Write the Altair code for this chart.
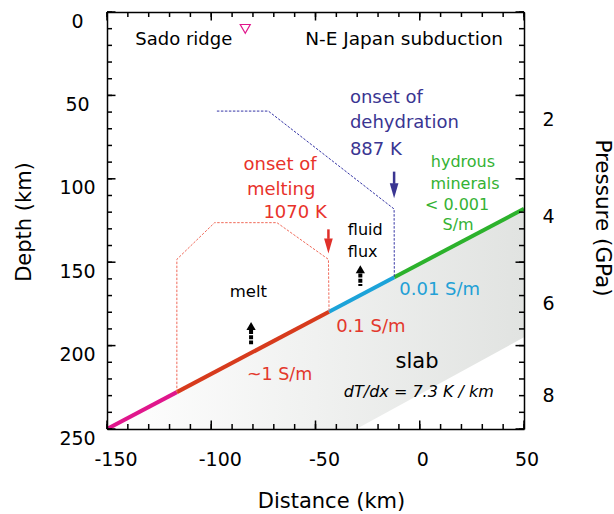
import altair as alt
import pandas as pd

FONT = "DejaVu Sans"
W, H = 417, 417

# ---- axes ----
x_major = [-150, -100, -50, 0, 50]
x_minor = list(range(-150, 51, 10))
y_major = [0, 50, 100, 150, 200, 250]
y_minor = list(range(0, 251, 10))
p_depth = [64.4, 122.4, 174.9, 229.7]
p_label = ["2", "4", "6", "8"]

# ---- slab body (gradient area) ----
slab_x = [-150, -30.4, 50]
slab_top = [250, 171.1, 118]
slab_bot = [250, 250, 195]

# ---- slab surface segments ----
seg_id = ["dry", "dry", "melt", "melt", "fluid", "fluid", "hyd", "hyd"]
seg_x = [-150, -116.5, -116.5, -43.5, -43.5, -12.2, -12.2, 50]
seg_d = [250, 227.9, 227.9, 179.7, 179.7, 159.0, 159.0, 118]
seg_names = ["dry", "melt", "fluid", "hyd"]
seg_colors = ["#e0168c", "#d73b1d", "#1ca3d9", "#2cb22c"]

# ---- dashed outlines ----
melt_x = [-116.5, -116.5, -98.4, -68.5, -43.8, -43.5]
melt_d = [227.9, 148.3, 126.3, 126.3, 148.3, 179.7]
dehy_x = [-97.3, -72.6, -12.3, -12.2]
dehy_d = [59.4, 59.4, 118.1, 159.0]

# ---- coloured arrows (onset markers) ----
arr_x = [-12.3, -43.8]
arr_top = [95.7, 130.3]
arr_base = [103.0, 136.0]
arr_head = [107.2, 140.3]
arr_color = ["#3a3592", "#e0302a"]

# ---- black upward arrows ----
up_x = [-28.5, -80.9]
up_head = [154.2, 188.2]
up_base = [156.7, 190.6]
up_tail = [164.3, 199.2]

# ---- Sado ridge marker ----
mk_x = [-83.7]
mk_d = [10.1]

# ---- text annotations ----
t_text = ["Sado ridge", "N-E Japan subduction",
          "onset of", "dehydration", "887 K",
          "onset of", "melting", "1070 K",
          "hydrous", "minerals", "< 0.001", "S/m",
          "fluid", "flux", "melt",
          "0.01 S/m", "0.1 S/m", "~1 S/m",
          "slab", "dT/dx = 7.3 K / km"]
t_x = [-136.4, 39.9,
       -33.5, -33.5, -33.5,
       -84.5, -82.9, -75.0,
       20.7, 21.7, 17.9, 18.4,
       -34.5, -34.5, -82.2,
       -9.8, -40.1, -82.9,
       -11.6, -36.4]
t_d = [19.8, 19.8,
       54.6, 69.5, 85.7,
       94.7, 109.7, 123.8,
       93.0, 106.1, 118.7, 130.7,
       133.7, 146.7, 171.0,
       169.7, 191.7, 220.6,
       213.6, 230.6]
t_anchor = ["left", "right",
            "left", "left", "left",
            "left", "left", "left",
            "center", "center", "center", "center",
            "left", "left", "center",
            "left", "left", "left",
            "left", "italic"]
BLUE, RED, GREEN, CYAN, RED2 = "#3a3592", "#e8322b", "#34b233", "#22a0d6", "#e3382c"
t_color = ["black", "black",
           BLUE, BLUE, BLUE,
           RED, RED, RED,
           GREEN, GREEN, GREEN, GREEN,
           "black", "black", "black",
           CYAN, RED2, RED2,
           "black", "black"]
t_size = [18, 18.5,
          18, 18, 18,
          18, 18, 18,
          16, 16, 16, 16,
          16, 16, 16.5,
          18, 18, 17.5,
          21, 16]

# ---------------------------------------------------------------
xs = alt.Scale(domain=[-150, 50], nice=False, zero=False)
ys = alt.Scale(domain=[0, 250], reverse=True, nice=False, zero=False)


def frame_axis(orient, off):
    return alt.Axis(orient=orient, offset=off, values=[], ticks=False, tickSize=0,
                    labels=False, domain=True, domainColor="black",
                    domainWidth=1.5, title=None, grid=False, zindex=1)


def X(field, axis=None):
    return alt.X(field, type="quantitative", scale=xs, axis=axis)


def Y(field, axis=None):
    return alt.Y(field, type="quantitative", scale=ys, axis=axis)


x_label_axis = alt.Axis(orient="bottom", values=x_major, ticks=False, tickSize=0,
                        domain=False, grid=False, labelFont=FONT, labelFontSize=19,
                        labelColor="black", labelPadding=21, labelBaseline="top",
                        labelExpr="'' + datum.value",
                        labelOffset={"condition": {"test": "datum.value < 0", "value": 8.5},
                                     "value": 2.5},
                        labelFlush=False, labelOverlap=False,
                        title="Distance (km)", titleFont=FONT, titleFontSize=21,
                        titleFontWeight="normal", titleColor="black",
                        titleX=224, titleY=78, titleBaseline="alphabetic")
y_label_axis = alt.Axis(orient="left", values=y_major, ticks=False, tickSize=0,
                        domain=False, grid=False, labelFont=FONT, labelFontSize=19,
                        labelColor="black", labelPadding=30, labelAlign="center",
                        labelBaseline="top", labelFlush=False, labelOverlap=False,
                        title="Depth (km)", titleFont=FONT, titleFontSize=21,
                        titleFontWeight="normal", titleColor="black",
                        titleAngle=270, titleX=-83, titleY=209.5,
                        titleBaseline="middle")
p_expr = "".join(f"abs(datum.value-{d})<0.5?'{l}':" for d, l in zip(p_depth, p_label)) + "''"
p_axis = alt.Axis(orient="right", values=p_depth, labelExpr=p_expr, ticks=False,
                  tickSize=0, domain=False, grid=False, labelFont=FONT,
                  labelFontSize=19, labelColor="black", labelPadding=18,
                  labelAlign="left", labelBaseline="middle", labelOverlap=False,
                  title="Pressure (GPa)", titleFont=FONT, titleFontSize=21.5,
                  titleFontWeight="normal", titleColor="black", titleAngle=90,
                  titleX=77, titleY=205.5, titleBaseline="middle")

slab_df = pd.DataFrame({"x": slab_x, "top": slab_top, "bot": slab_bot})
seg_df = pd.DataFrame({"seg": seg_id, "x": seg_x, "d": seg_d})
melt_df = pd.DataFrame({"x": melt_x, "d": melt_d, "i": list(range(len(melt_x)))})
dehy_df = pd.DataFrame({"x": dehy_x, "d": dehy_d, "i": list(range(len(dehy_x)))})
arr_df = pd.DataFrame({"x": arr_x, "top": arr_top, "base": arr_base,
                       "head": arr_head, "c": arr_color})
up_df = pd.DataFrame({"x": up_x, "head": up_head, "base": up_base, "tail": up_tail})
mk_df = pd.DataFrame({"x": mk_x, "d": mk_d})
txt_df = pd.DataFrame({"x": t_x, "d": t_d, "text": t_text, "anchor": t_anchor,
                       "c": t_color, "s": t_size})
xmin_df = pd.DataFrame({"x": x_minor})
xmaj_df = pd.DataFrame({"x": x_major})
ymin_df = pd.DataFrame({"d": y_minor})
ymaj_df = pd.DataFrame({"d": y_major})

grad = alt.Gradient(gradient="linear",
                    stops=[alt.GradientStop(color="#ffffff", offset=0),
                           alt.GradientStop(color="#e1e3e1", offset=1)],
                    x1=0, x2=1, y1=0, y2=0)

area = alt.Chart(slab_df).mark_area(color=grad).encode(
    x=X("x", x_label_axis), y=Y("top", y_label_axis), y2="bot")

slab_line = alt.Chart(seg_df).mark_line(strokeWidth=4, strokeCap="butt", clip=True).encode(
    x=X("x", frame_axis("bottom", -H)),
    y=Y("d", frame_axis("right", -W)),
    color=alt.Color("seg:N", scale=alt.Scale(domain=seg_names, range=seg_colors), legend=None),
    detail="seg:N")

melt_line = alt.Chart(melt_df).mark_line(strokeWidth=1, strokeDash=[2.5, 1.5],
                                         color="#f06a5a").encode(
    x=X("x", frame_axis("top", -H)),
    y=Y("d", frame_axis("left", -W)),
    order="i:Q")

dehy_line = alt.Chart(dehy_df).mark_line(strokeWidth=1, strokeDash=[2.5, 1.5],
                                         color="#3535a5").encode(
    x=X("x"), y=Y("d"), order="i:Q")

shafts = alt.Chart(arr_df).mark_rule(strokeWidth=2.5, strokeCap="butt").encode(
    x=X("x"), y=Y("top"), y2="base", color=alt.Color("c:N", scale=None))

heads = alt.Chart(arr_df).mark_point(shape="M-0.58,-1L0.58,-1L0,1Z", filled=True,
                                     size=225, opacity=1, strokeWidth=0).encode(
    x=X("x"), y=Y("head", p_axis), color=alt.Color("c:N", scale=None))

stems = alt.Chart(up_df).mark_rule(strokeWidth=4, strokeDash=[4, 1.3],
                                   strokeCap="butt", color="black").encode(
    x=X("x"), y=Y("base"), y2="tail")

up_heads = alt.Chart(up_df).mark_point(shape="triangle-up", filled=True, size=86,
                                       opacity=1, color="black", strokeWidth=0).encode(
    x=X("x"), y=Y("head"))

marker = alt.Chart(mk_df).mark_point(shape="triangle-down", filled=False, size=100,
                                     opacity=1, color="#e0168c", strokeWidth=1.2).encode(
    x=X("x"), y=Y("d"))


def xticks(df, length, side):
    y0, y1 = (0, length) if side == "top" else (H - length, H)
    return alt.Chart(df).mark_rule(color="black", strokeWidth=1.5, opacity=1).encode(
        x=X("x"), y=alt.value(y0), y2=alt.value(y1))


def yticks(df, length, side):
    x0, x1 = (0, length) if side == "left" else (W - length, W)
    return alt.Chart(df).mark_rule(color="black", strokeWidth=1.5, opacity=1).encode(
        y=Y("d"), x=alt.value(x0), x2=alt.value(x1))


tick_layers = [xticks(xmin_df, 5, "top"), xticks(xmin_df, 5, "bottom"),
               xticks(xmaj_df, 8.5, "top"), xticks(xmaj_df, 8.5, "bottom"),
               yticks(ymin_df, 5, "left"), yticks(ymin_df, 5, "right"),
               yticks(ymaj_df, 8.5, "left"), yticks(ymaj_df, 8.5, "right")]


def text_layer(anchor, align, style="normal"):
    return alt.Chart(txt_df).transform_filter(alt.datum.anchor == anchor).mark_text(
        font=FONT, align=align, baseline="alphabetic", fontStyle=style).encode(
        x=X("x"), y=Y("d"), text="text:N",
        color=alt.Color("c:N", scale=None), size=alt.Size("s:Q", scale=None))


texts = [text_layer("left", "left"), text_layer("right", "right"),
         text_layer("center", "center"), text_layer("italic", "left", "italic")]

chart = alt.layer(area, slab_line, melt_line, dehy_line, shafts, heads,
                  stems, up_heads, marker, *texts, *tick_layers).resolve_scale(
    x="independent", y="independent", color="independent", size="independent"
).properties(
    width=W, height=H,
    autosize=alt.AutoSizeParams(type="none"),
    padding={"left": 107, "top": 12, "right": 90, "bottom": 85},
    background="white"
).configure_view(stroke=None)

chart.save("out.html", embed_options={"renderer": "svg", "actions": False})
